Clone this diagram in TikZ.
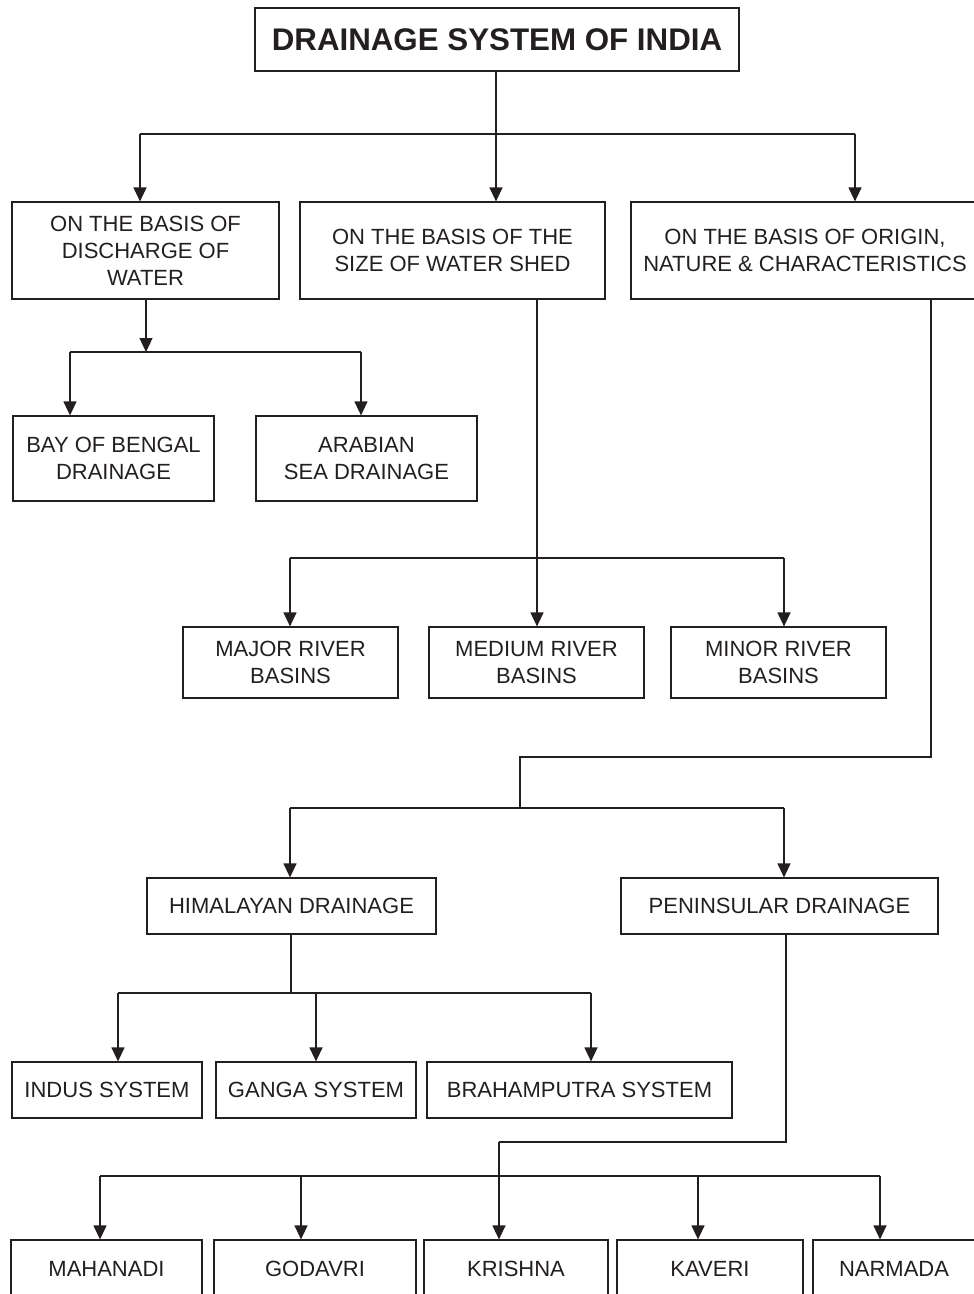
\documentclass[tikz,border=0pt]{standalone}
\usepackage{fontspec}
\setmainfont{Liberation Sans}
\usetikzlibrary{arrows.meta}
\definecolor{ink}{HTML}{231F20}
\begin{document}
\begin{tikzpicture}[x=1pt,y=-1pt,
  box/.style={draw=ink,line width=1.2pt,align=center,text=ink,inner sep=0pt,anchor=center,
    font=\fontsize{22}{27}\selectfont},
  conn/.style={draw=ink,line width=1.2pt},
  arr/.style={conn,-{Triangle[width=13pt,length=14pt]}}]
\useasboundingbox (0,0) rectangle (974,1294);
\clip (0,0) rectangle (974,1294);
% nodes
\node[box,minimum width=484pt,minimum height=63pt,font=\fontsize{31.3}{35}\selectfont\bfseries] (title) at (497,39.5) {DRAINAGE SYSTEM OF INDIA};
\node[box,minimum width=267pt,minimum height=97pt] (A) at (145.5,250.5) {ON THE BASIS OF\\DISCHARGE OF\\WATER};
\node[box,minimum width=305pt,minimum height=97pt] (B) at (452.5,250.5) {ON THE BASIS OF THE\\SIZE OF WATER SHED};
\node[box,minimum width=348pt,minimum height=97pt] (C) at (805,250.5) {ON THE BASIS OF ORIGIN,\\NATURE \& CHARACTERISTICS};
\node[box,minimum width=201pt,minimum height=85pt] (bob) at (113.5,458.5) {BAY OF BENGAL\\DRAINAGE};
\node[box,minimum width=221pt,minimum height=85pt] (arab) at (366.5,458.5) {ARABIAN\\SEA DRAINAGE};
\node[box,minimum width=215pt,minimum height=71pt] (major) at (290.5,662.5) {MAJOR RIVER\\BASINS};
\node[box,minimum width=215pt,minimum height=71pt] (medium) at (536.5,662.5) {MEDIUM RIVER\\BASINS};
\node[box,minimum width=215pt,minimum height=71pt] (minor) at (778.5,662.5) {MINOR RIVER\\BASINS};
\node[box,minimum width=289pt,minimum height=56pt] (him) at (291.5,906) {HIMALAYAN DRAINAGE};
\node[box,minimum width=317pt,minimum height=56pt] (pen) at (779.5,906) {PENINSULAR DRAINAGE};
\node[box,minimum width=190pt,minimum height=56pt] (indus) at (107,1090) {INDUS SYSTEM};
\node[box,minimum width=200pt,minimum height=56pt] (ganga) at (316,1090) {GANGA SYSTEM};
\node[box,minimum width=305pt,minimum height=56pt] (brah) at (579.5,1090) {BRAHAMPUTRA SYSTEM};
\node[box,minimum width=191pt,minimum height=58pt] (mah) at (106.5,1269) {MAHANADI};
\node[box,minimum width=202pt,minimum height=58pt] (god) at (315,1269) {GODAVRI};
\node[box,minimum width=184pt,minimum height=58pt] (kri) at (516,1269) {KRISHNA};
\node[box,minimum width=186pt,minimum height=58pt] (kav) at (710,1269) {KAVERI};
\node[box,minimum width=162pt,minimum height=58pt] (nar) at (894,1269) {NARMADA};
% coordinates
\coordinate (t0) at (496,134);
\coordinate (tl) at (140,134);
\coordinate (tr) at (855,134);
\coordinate (a0) at (146,352);
\coordinate (al) at (70,352);
\coordinate (ar) at (361,352);
\coordinate (b0) at (537,558);
\coordinate (bl) at (290,558);
\coordinate (br) at (784,558);
\coordinate (c1) at (931,757);
\coordinate (c2) at (520,757);
\coordinate (c3) at (520,808);
\coordinate (cl) at (290,808);
\coordinate (cr) at (784,808);
\coordinate (h0) at (291,993);
\coordinate (hl) at (118,993);
\coordinate (hm) at (316,993);
\coordinate (hr) at (591,993);
\coordinate (p1) at (786,1142);
\coordinate (p2) at (499,1142);
\coordinate (ql) at (100,1176);
\coordinate (qg) at (301,1176);
\coordinate (qk) at (698,1176);
\coordinate (qr) at (880,1176);
% connectors
\draw[conn] (title.south -| t0) -- (t0);
\draw[conn] (tl) -- (tr);
\draw[arr] (tl) -- (tl |- A.north);
\draw[arr] (t0) -- (t0 |- B.north);
\draw[arr] (tr) -- (tr |- C.north);
\draw[arr] (A.south -| a0) -- (a0);
\draw[conn] (al) -- (ar);
\draw[arr] (al) -- (al |- bob.north);
\draw[arr] (ar) -- (ar |- arab.north);
\draw[arr] (B.south -| b0) -- (b0 |- medium.north);
\draw[conn] (bl) -- (br);
\draw[arr] (bl) -- (bl |- major.north);
\draw[arr] (br) -- (br |- minor.north);
\draw[conn] (C.south -| c1) -- (c1) -- (c2) -- (c3);
\draw[conn] (cl) -- (cr);
\draw[arr] (cl) -- (cl |- him.north);
\draw[arr] (cr) -- (cr |- pen.north);
\draw[conn] (him.south -| h0) -- (h0);
\draw[conn] (hl) -- (hr);
\draw[arr] (hl) -- (hl |- indus.north);
\draw[arr] (hm) -- (hm |- ganga.north);
\draw[arr] (hr) -- (hr |- brah.north);
\draw[conn] (pen.south -| p1) -- (p1) -- (p2);
\draw[arr] (p2) -- (p2 |- kri.north);
\draw[conn] (ql) -- (qr);
\draw[arr] (ql) -- (ql |- mah.north);
\draw[arr] (qg) -- (qg |- god.north);
\draw[arr] (qk) -- (qk |- kav.north);
\draw[arr] (qr) -- (qr |- nar.north);
\end{tikzpicture}
\end{document}
